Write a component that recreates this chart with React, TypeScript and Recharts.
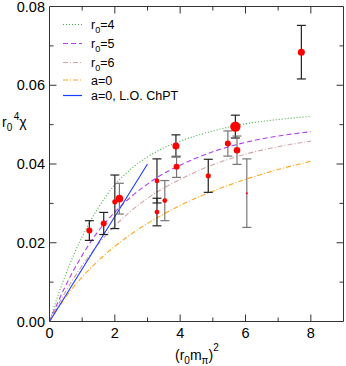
import React from 'react';
import { ComposedChart, Line, Scatter, ErrorBar, XAxis, YAxis, Legend } from 'recharts';

// ---------- data ----------
const curveX = [0, 0.25, 0.5, 0.75, 1, 1.5, 2, 2.5, 3, 3.5, 4, 5, 6, 7, 8];
const r04Y = [0, 0.0064, 0.012, 0.0171, 0.0215, 0.029, 0.0347, 0.0388, 0.0418, 0.0441, 0.0458, 0.0484, 0.0502, 0.0513, 0.0521];
const r05Y = [0, 0.0048, 0.0092, 0.0132, 0.0168, 0.023, 0.0278, 0.0317, 0.0349, 0.0376, 0.0397, 0.0431, 0.0455, 0.0471, 0.0482];
const r06Y = [0, 0.004, 0.0077, 0.0111, 0.0142, 0.0197, 0.0243, 0.0281, 0.0313, 0.0339, 0.0361, 0.0398, 0.0425, 0.0444, 0.0458];
const a0Y = [0, 0.0032, 0.0062, 0.0089, 0.0113, 0.0155, 0.0191, 0.0222, 0.0249, 0.0273, 0.0295, 0.0331, 0.0361, 0.0386, 0.0407];
const chptX = [0, 3.0];
const chptY = [0, 0.04];

const pointX = [1.22, 1.66, 2.0, 2.14, 3.29, 3.29, 3.53, 3.87, 3.89, 4.86, 5.46, 5.69, 5.74, 6.04, 7.71];
const pointY = [0.0231, 0.0249, 0.0304, 0.0312, 0.0357, 0.0278, 0.0307, 0.0446, 0.0393, 0.037, 0.0452, 0.0495, 0.0435, 0.0326, 0.0684];
const pointErr = [0.0025, 0.0028, 0.0068, 0.0039, 0.0056, 0.0035, 0.0051, 0.0028, 0.0027, 0.0042, 0.0032, 0.0029, 0.0036, 0.0087, 0.0068];
const pointSet = ['A', 'A', 'A', 'B', 'A', 'A', 'B', 'A', 'B', 'A', 'B', 'A', 'B', 'B', 'A'];

const xTicks = [0, 1, 2, 3, 4, 5, 6, 7, 8, 9];
const xLabelTicks = [0, 2, 4, 6, 8];
const yTicks = [0, 0.01, 0.02, 0.03, 0.04, 0.05, 0.06, 0.07, 0.08];
const yLabelTicks = [0, 0.02, 0.04, 0.06, 0.08];

const legendLabels: [string, string, string][] = [
  ['r', '0', '=4'],
  ['r', '0', '=5'],
  ['r', '0', '=6'],
  ['a=0', '', ''],
  ['a=0, L.O. ChPT', '', ''],
];

// ---------- styles ----------
const FONT = '"Liberation Sans", Arial, Helvetica, sans-serif';
const AXIS = '#333';
const seriesStyle = [
  { color: '#40b040', dash: '1 2' },
  { color: '#b040f0', dash: '5 3' },
  { color: '#d0a4a4', dash: '5 2 1 2' },
  { color: '#ffa820', dash: '5 2 1 2' },
  { color: '#1a3cff', dash: undefined as string | undefined },
];
const dotRadius = [3, 3, 2.6, 3.8, 2.4, 2.4, 2.4, 3.5, 3, 2.6, 3, 5.2, 3.3, 1, 3.5];
const setColor: Record<string, string> = { A: '#222', B: '#777' };

const mk = (xs: number[], ys: number[]) => xs.map((x, i) => ({ x, y: ys[i] }));
const curves = [mk(curveX, r04Y), mk(curveX, r05Y), mk(curveX, r06Y), mk(curveX, a0Y), mk(chptX, chptY)];
const points = pointX.map((x, i) => ({ x, y: pointY[i], e: pointErr[i], i, s: pointSet[i] }));
const sets = ['A', 'B'];

const isMajorX = (v: number) => xLabelTicks.includes(v);
const isMajorY = (v: number) => yLabelTicks.some((t) => Math.abs(t - v) < 1e-9);

const BottomTick = (p: any) => {
  const v = p.payload.value;
  const major = isMajorX(v);
  return (
    <g>
      {v > 0 && v < 9 && <line x1={p.x} x2={p.x} y1={p.y} y2={p.y - (major ? 7 : 4)} stroke={AXIS} />}
      {major && (
        <text x={p.x} y={p.y + 16.5} textAnchor="middle" fontSize={14.5} fontFamily={FONT} fill="#000">
          {v}
        </text>
      )}
    </g>
  );
};
const TopTick = (p: any) => {
  const v = p.payload.value;
  const major = isMajorX(v);
  if (v <= 0 || v >= 9) return <g />;
  return <line x1={p.x} x2={p.x} y1={p.y} y2={p.y + (major ? 7 : 4)} stroke={AXIS} />;
};
const LeftTick = (p: any) => {
  const v = p.payload.value;
  const major = isMajorY(v);
  return (
    <g>
      {v > 0 && v < 0.08 && <line x1={p.x} x2={p.x + (major ? 7 : 4)} y1={p.y} y2={p.y} stroke={AXIS} />}
      {major && (
        <text x={p.x - 4.5} y={p.y + 5} textAnchor="end" fontSize={14.5} fontFamily={FONT} fill="#000">
          {v.toFixed(2)}
        </text>
      )}
    </g>
  );
};
const RightTick = (p: any) => {
  const v = p.payload.value;
  const major = isMajorY(v);
  if (v <= 0 || v >= 0.08) return <g />;
  return <line x1={p.x} x2={p.x - (major ? 7 : 4)} y1={p.y} y2={p.y} stroke={AXIS} />;
};

const Dot = (p: any) => {
  const idx = p.payload?.i ?? 0;
  return <circle cx={p.cx} cy={p.cy} r={dotRadius[idx]} fill="#ff0000" />;
};

const LegendBox = () => {
  const rowsY = [24.5, 43.5, 62.5, 80, 95.5];
  return (
    <svg width={200} height={110} style={{ display: 'block' }}>
      {legendLabels.map((lab, k) => {
        const y = rowsY[k];
        const st = seriesStyle[k];
        return (
          <g key={k}>
            <line x1={63} x2={82} y1={y} y2={y} stroke={st.color} strokeDasharray={st.dash} strokeWidth={1.2} />
            <text x={91} y={y + 4.5} fontSize={12.5} fontFamily={FONT} fill="#000">
              {lab[0]}
              {lab[1] && (
                <tspan fontSize={9} dy={4}>
                  {lab[1]}
                </tspan>
              )}
              {lab[2] && <tspan dy={-4}>{lab[2]}</tspan>}
            </text>
          </g>
        );
      })}
    </svg>
  );
};

const YLabel = () => (
  <text x={2} y={127} fontSize={14} fontFamily={FONT} fill="#000">
    r
    <tspan fontSize={10} dy={4}>0</tspan>
    <tspan fontSize={10} dy={-11} dx={1.5}>4</tspan>
    <tspan dy={7}>χ</tspan>
  </text>
);

const XLabel = () => (
  <text x={175} y={360} fontSize={14} fontFamily={FONT} fill="#000">
    (r
    <tspan fontSize={10} dy={4}>0</tspan>
    <tspan dy={-4}>m</tspan>
    <tspan fontSize={10} dy={4}>π</tspan>
    <tspan dy={-4}>)</tspan>
    <tspan fontSize={10} dy={-9}>2</tspan>
  </text>
);

export default function App() {
  return (
    <div style={{ position: 'absolute', left: 0, top: 0, width: 346, height: 366, background: '#fff' }}>
      <ComposedChart width={346} height={366} margin={{ top: 6, right: 1, bottom: 0, left: 0 }}>
        <XAxis
          xAxisId="b"
          type="number"
          dataKey="x"
          domain={[0, 9]}
          ticks={xTicks}
          interval={0}
          allowDataOverflow
          height={44.5}
          tickSize={0}
          tickMargin={0}
          tickLine={false}
          axisLine={{ stroke: AXIS }}
          tick={BottomTick}
          label={{ content: () => <XLabel /> }}
        />
        <XAxis
          xAxisId="t"
          orientation="top"
          type="number"
          dataKey="x"
          domain={[0, 9]}
          ticks={xTicks}
          interval={0}
          allowDataOverflow
          height={0.5}
          tickSize={0}
          tickMargin={0}
          tickLine={false}
          axisLine={{ stroke: AXIS }}
          tick={TopTick}
        />
        <YAxis
          yAxisId="l"
          type="number"
          domain={[0, 0.08]}
          ticks={yTicks}
          interval={0}
          allowDataOverflow
          width={49.5}
          tickSize={0}
          tickMargin={0}
          tickLine={false}
          axisLine={{ stroke: AXIS }}
          tick={LeftTick}
          label={{ content: () => <YLabel /> }}
        />
        <YAxis
          yAxisId="r"
          orientation="right"
          type="number"
          domain={[0, 0.08]}
          ticks={yTicks}
          interval={0}
          allowDataOverflow
          width={1.5}
          tickSize={0}
          tickMargin={0}
          tickLine={false}
          axisLine={{ stroke: AXIS }}
          tick={RightTick}
        />
        {curves.map((d, k) => (
          <Line
            key={'c' + k}
            xAxisId="b"
            yAxisId="l"
            data={d}
            dataKey="y"
            type={k === 4 ? 'linear' : 'monotone'}
            stroke={seriesStyle[k].color}
            strokeDasharray={seriesStyle[k].dash}
            strokeWidth={1.1}
            dot={false}
            activeDot={false}
            isAnimationActive={false}
          />
        ))}
        {sets.map((s) => (
          <Scatter
            key={'s' + s}
            xAxisId="b"
            yAxisId="l"
            data={points.filter((p) => p.s === s)}
            dataKey="y"
            shape={Dot}
            isAnimationActive={false}
          >
            <ErrorBar dataKey="e" direction="y" width={4.5} stroke={setColor[s]} strokeWidth={1.2} isAnimationActive={false} />
          </Scatter>
        ))}
        <Legend
          layout="vertical"
          align="center"
          verticalAlign="middle"
          wrapperStyle={{ left: 0, top: 0, width: 200, height: 110 }}
          content={() => <LegendBox />}
        />
      </ComposedChart>
    </div>
  );
}
